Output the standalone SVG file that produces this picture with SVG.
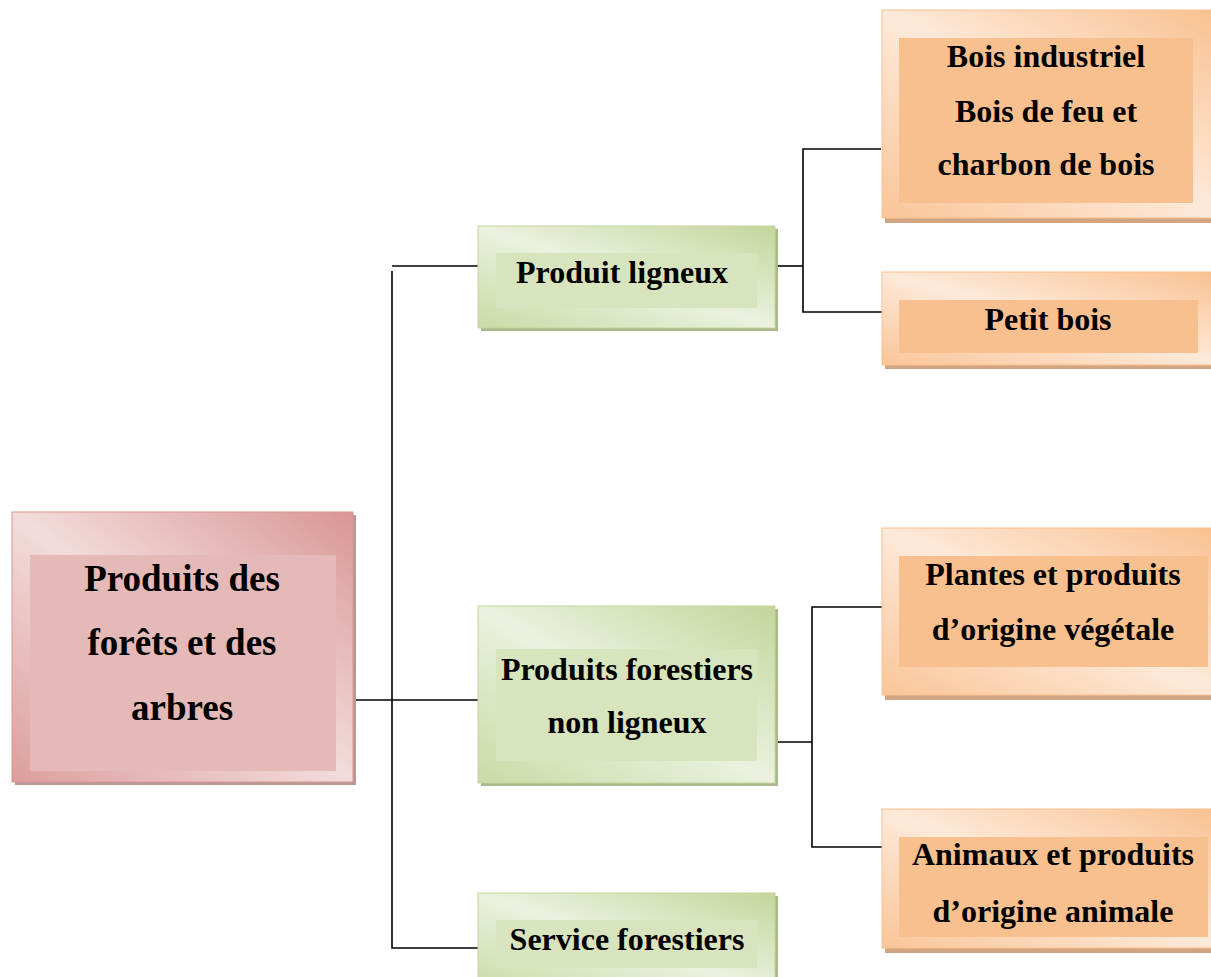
<svg xmlns="http://www.w3.org/2000/svg" width="1211" height="977" viewBox="0 0 1211 977">
<style>
text{font-family:"Liberation Serif","Times New Roman",serif;font-weight:bold;fill:#000;text-anchor:middle}
.t{font-size:32px}
.r{font-size:37px}
.ln{stroke:#000;stroke-width:1.6;fill:none}
.gs{fill:#a9b98c}
.os{fill:#d2a582}
.ps{fill:#b99898}
.go{fill:url(#gG);stroke:#c3d69b;stroke-width:1}
.oo{fill:url(#gO);stroke:#f9c08f;stroke-width:1}
.po{fill:url(#gP);stroke:#d99694;stroke-width:1}
.gi{fill:#d7e4bd}
.oi{fill:#f9c08f}
.pi{fill:#e5b9b8}
</style>
<defs>
<linearGradient id="gG" x1="1" y1="0" x2="0" y2="1">
<stop offset="0" stop-color="#c3d69b"/><stop offset="0.5" stop-color="#ebf1de"/><stop offset="1" stop-color="#c9dba6"/>
</linearGradient>
<linearGradient id="gO" x1="1" y1="0" x2="0" y2="1">
<stop offset="0" stop-color="#f9c08f"/><stop offset="0.5" stop-color="#fde9d9"/><stop offset="1" stop-color="#fac597"/>
</linearGradient>
<linearGradient id="gP" x1="1" y1="0" x2="0" y2="1">
<stop offset="0" stop-color="#d99694"/><stop offset="0.5" stop-color="#f2dcdb"/><stop offset="1" stop-color="#dc9e9c"/>
</linearGradient>
</defs>
<rect width="1211" height="977" fill="#fff"/>
<g id="connectors">
<path class="ln" d="M353 700H478"/>
<path class="ln" d="M392 266H478"/>
<path class="ln" d="M392 271V948H478"/>
<path class="ln" d="M775 266H803"/>
<path class="ln" d="M881 149H803V312H882"/>
<path class="ln" d="M775 742H812"/>
<path class="ln" d="M882 607H812V847H882"/>
</g>
<g id="root">
<rect class="ps" x="15" y="515" width="341" height="270"/>
<rect class="po" x="12" y="512" width="341" height="270"/>
<rect class="pi" x="30" y="555" width="306" height="216"/>
<text class="r" x="182" y="591">Produits des</text>
<text class="r" x="182" y="655">forêts et des</text>
<text class="r" x="182" y="720">arbres</text>
</g>
<g id="produit-ligneux">
<rect class="gs" x="481" y="229" width="297" height="102"/>
<rect class="go" x="478" y="226" width="297" height="102"/>
<rect class="gi" x="496" y="253" width="261" height="55"/>
<text class="t" x="622" y="283">Produit ligneux</text>
</g>
<g id="produits-non-ligneux">
<rect class="gs" x="481" y="609" width="297" height="177"/>
<rect class="go" x="478" y="606" width="297" height="177"/>
<rect class="gi" x="496" y="649" width="261" height="112"/>
<text class="t" x="627" y="680">Produits forestiers</text>
<text class="t" x="627" y="733">non ligneux</text>
</g>
<g id="service-forestiers">
<rect class="gs" x="481" y="896" width="297" height="100"/>
<rect class="go" x="478" y="893" width="297" height="100"/>
<rect class="gi" x="496" y="920" width="261" height="48"/>
<text class="t" x="627" y="950">Service forestiers</text>
</g>
<g id="bois-industriel">
<rect class="os" x="885" y="13" width="340" height="210"/>
<rect class="oo" x="882" y="10" width="340" height="208"/>
<rect class="oi" x="899" y="38" width="294" height="165"/>
<text class="t" x="1046" y="67">Bois industriel</text>
<text class="t" x="1046" y="122">Bois de feu et</text>
<text class="t" x="1046" y="175">charbon de bois</text>
</g>
<g id="petit-bois">
<rect class="os" x="885" y="275" width="340" height="94"/>
<rect class="oo" x="882" y="272" width="340" height="93"/>
<rect class="oi" x="899" y="300" width="299" height="53"/>
<text class="t" x="1048" y="330">Petit bois</text>
</g>
<g id="plantes">
<rect class="os" x="885" y="531" width="340" height="169"/>
<rect class="oo" x="882" y="528" width="340" height="167"/>
<rect class="oi" x="899" y="556" width="309" height="111"/>
<text class="t" x="1053" y="585">Plantes et produits</text>
<text class="t" x="1053" y="640">d’origine végétale</text>
</g>
<g id="animaux">
<rect class="os" x="885" y="812" width="340" height="141"/>
<rect class="oo" x="882" y="809" width="340" height="139"/>
<rect class="oi" x="899" y="837" width="309" height="100"/>
<text class="t" x="1053" y="865">Animaux et produits</text>
<text class="t" x="1053" y="922">d’origine animale</text>
</g>
</svg>
